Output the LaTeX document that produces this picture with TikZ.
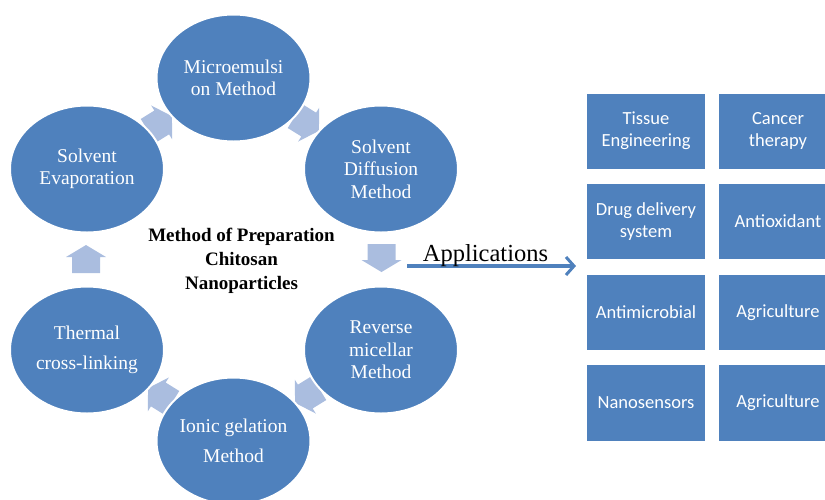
\documentclass[tikz,border=0pt]{standalone}
\usepackage{fontspec}
\setmainfont{Liberation Serif}
\newfontfamily\boxfont{Carlito}
\usetikzlibrary{shapes.geometric,arrows.meta}
\definecolor{mblue}{RGB}{79,129,189}
\definecolor{lblue}{RGB}{170,189,223}
\tikzset{
  ell/.style={ellipse, fill=mblue, draw=white, line width=2pt, minimum width=154pt, minimum height=127pt, inner sep=0pt, text=white, align=center},
  ellA/.style={ell, font=\fontsize{19.5}{22.5}\selectfont},
  ellB/.style={ell, font=\fontsize{19.5}{30}\selectfont},
  appbox/.style={rectangle, fill=mblue, minimum width=118pt, minimum height=75pt, inner sep=0pt, text=white, align=center, font=\boxfont\fontsize{18.5}{22}\selectfont},
  cyc/.style={fill=lblue, draw=none},
  apparrow/.style={draw=mblue, line width=3.5pt, -{Straight Barb[length=8pt,width=18pt,line width=3pt]}},
}
\newcommand{\blockarrow}[3]{%
  \begin{scope}[shift={#1}, rotate=#2]
    \fill[cyc] (-14,-14) -- (2,-14) -- (2,-20) -- (14,0) -- (2,20) -- (2,14) -- (-14,14) -- cycle;
  \end{scope}}
\begin{document}
\begin{tikzpicture}[x=1pt, y=-1pt]
\useasboundingbox (0,0) rectangle (825,499);
\clip (0,0) rectangle (825,499);
% cycle arrows
\blockarrow{(160,123.5)}{31.8}{a1}
\blockarrow{(307,123.5)}{-31.8}{a2}
\blockarrow{(381.5,258)}{-90}{a3}
\blockarrow{(307,395.5)}{211.8}{a4}
\blockarrow{(160,395.5)}{148.2}{a5}
\blockarrow{(86,259)}{90}{a6}
% ellipses
\node[ellA] (micro) at (233.5,78) {Microemulsi\\on Method};
\node[ellA] (evap) at (87,169) {Solvent\\Evaporation};
\node[ellA] (diff) at (381,169) {Solvent\\Diffusion\\Method};
\node[ellB] (therm) at (87,350) {Thermal\\cross-linking};
\node[ellA] (rev) at (381,350) {Reverse\\micellar\\Method};
\node[ellB] (ionic) at (233.5,441) {Ionic gelation\\Method};
% centre text
\node[align=center, font=\bfseries\fontsize{19}{24}\selectfont] (title) at (241.5,261) {Method of Preparation\\Chitosan\\Nanoparticles};
% applications
\coordinate (appS) at (407,266);
\coordinate (appE) at (576,266);
\draw[apparrow] (appS) -- (appE);
\node[anchor=base, font=\fontsize{24.5}{28}\selectfont, inner sep=0pt] (applab) at (485.5,261) {Applications};
% boxes
\node[appbox] (b11) at (646,131) {Tissue\\Engineering};
\node[appbox] (b12) at (778,131) {Cancer\\therapy};
\node[appbox] (b21) at (646,221.5) {Drug delivery\\system};
\node[appbox] (b22) at (778,221.5) {Antioxidant};
\node[appbox] (b31) at (646,312.5) {Antimicrobial};
\node[appbox] (b32) at (778,312.5) {Agriculture};
\node[appbox, minimum height=76pt] (b41) at (646,403) {Nanosensors};
\node[appbox, minimum height=76pt] (b42) at (778,403) {Agriculture};
\end{tikzpicture}
\end{document}
